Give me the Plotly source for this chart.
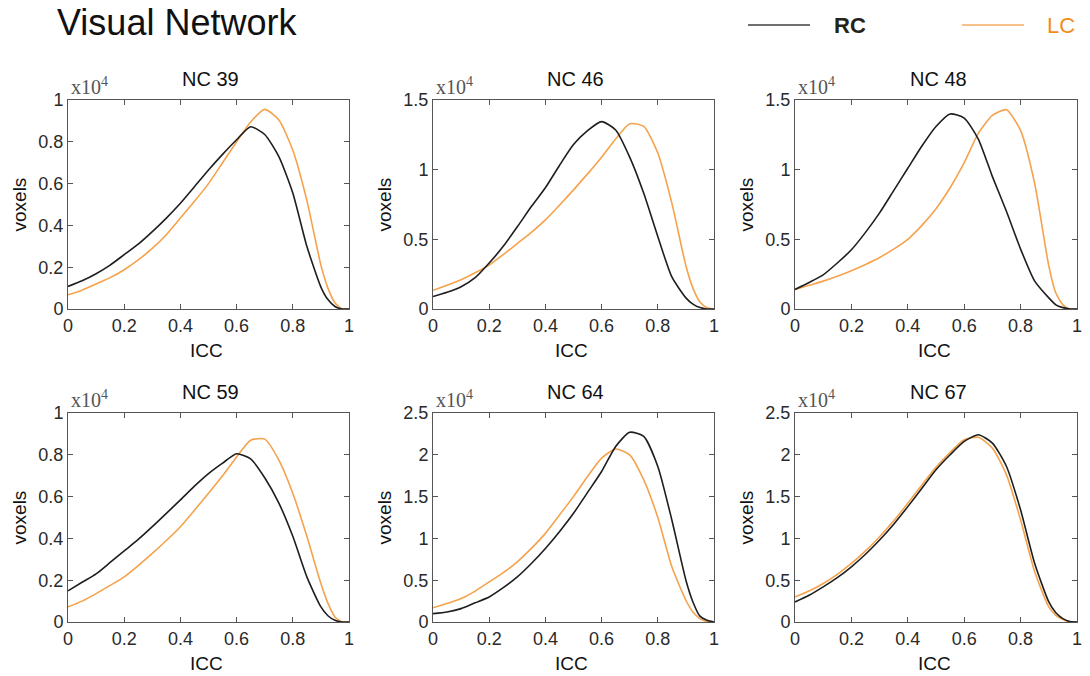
import plotly.graph_objects as go

# ICC grid (x values, shared by all panels)
icc = [0, 0.05, 0.1, 0.15, 0.2, 0.25, 0.3, 0.35, 0.4, 0.45, 0.5, 0.55, 0.6, 0.65,
       0.7, 0.75, 0.8, 0.85, 0.9, 0.925, 0.95, 0.975, 1.0]

panel_titles = ["NC 39", "NC 46", "NC 48", "NC 59", "NC 64", "NC 67"]
y_max = [1.0, 1.5, 1.5, 1.0, 2.5, 2.5]
y_dtick = [0.2, 0.5, 0.5, 0.2, 0.5, 0.5]

# voxels (x10^4)
rc_nc39 = [0.108, 0.135, 0.169, 0.21, 0.26, 0.31, 0.37, 0.435, 0.506, 0.585, 0.665, 0.74, 0.81, 0.872,
           0.835, 0.73, 0.555, 0.30, 0.105, 0.045, 0.012, 0.0, 0.0]
lc_nc39 = [0.068, 0.09, 0.12, 0.15, 0.188, 0.235, 0.29, 0.355, 0.435, 0.515, 0.60, 0.70, 0.80, 0.895,
           0.955, 0.905, 0.76, 0.52, 0.21, 0.10, 0.03, 0.0, 0.0]

rc_nc46 = [0.09, 0.12, 0.16, 0.225, 0.33, 0.45, 0.59, 0.735, 0.87, 1.03, 1.18, 1.28, 1.345, 1.285,
           1.09, 0.83, 0.52, 0.23, 0.08, 0.035, 0.01, 0.0, 0.0]
lc_nc46 = [0.134, 0.17, 0.21, 0.26, 0.315, 0.39, 0.47, 0.55, 0.64, 0.745, 0.855, 0.97, 1.09, 1.22,
           1.33, 1.31, 1.12, 0.76, 0.31, 0.15, 0.05, 0.01, 0.0]

rc_nc48 = [0.14, 0.19, 0.245, 0.33, 0.425, 0.55, 0.69, 0.85, 1.01, 1.17, 1.31, 1.40, 1.37, 1.22,
           0.95, 0.70, 0.43, 0.20, 0.08, 0.03, 0.01, 0.0, 0.0]
lc_nc48 = [0.14, 0.17, 0.20, 0.235, 0.275, 0.32, 0.37, 0.43, 0.50, 0.60, 0.72, 0.87, 1.05, 1.26,
           1.39, 1.43, 1.28, 0.90, 0.31, 0.115, 0.03, 0.0, 0.0]

rc_nc59 = [0.149, 0.19, 0.23, 0.285, 0.34, 0.395, 0.456, 0.52, 0.584, 0.65, 0.71, 0.76, 0.805, 0.78,
           0.69, 0.57, 0.41, 0.216, 0.072, 0.03, 0.008, 0.0, 0.0]
lc_nc59 = [0.072, 0.10, 0.136, 0.175, 0.216, 0.27, 0.328, 0.39, 0.456, 0.535, 0.616, 0.70, 0.79, 0.87,
           0.875, 0.776, 0.616, 0.41, 0.184, 0.09, 0.024, 0.0, 0.0]

rc_nc64 = [0.10, 0.12, 0.16, 0.23, 0.30, 0.41, 0.54, 0.70, 0.88, 1.08, 1.30, 1.55, 1.80, 2.10,
           2.27, 2.22, 1.86, 1.22, 0.50, 0.24, 0.07, 0.02, 0.0]
lc_nc64 = [0.17, 0.22, 0.28, 0.37, 0.48, 0.59, 0.72, 0.88, 1.06, 1.28, 1.50, 1.74, 1.96, 2.07,
           2.0, 1.70, 1.25, 0.66, 0.26, 0.12, 0.04, 0.005, 0.0]

rc_nc67 = [0.24, 0.32, 0.42, 0.53, 0.66, 0.81, 0.98, 1.17, 1.38, 1.60, 1.82, 2.0, 2.16, 2.24,
           2.14, 1.86, 1.34, 0.70, 0.24, 0.11, 0.04, 0.005, 0.0]
lc_nc67 = [0.30, 0.37, 0.46, 0.57, 0.70, 0.85, 1.02, 1.21, 1.42, 1.64, 1.85, 2.03, 2.18, 2.21,
           2.08, 1.76, 1.22, 0.60, 0.18, 0.08, 0.03, 0.0, 0.0]

rc_series = [rc_nc39, rc_nc46, rc_nc48, rc_nc59, rc_nc64, rc_nc67]
lc_series = [lc_nc39, lc_nc46, lc_nc48, lc_nc59, lc_nc64, lc_nc67]

RC_COLOR = "#1e1e1e"
LC_COLOR = "#f5a24c"
W, H = 1090, 676

# panel pixel boxes (left, right) and (top, bottom)
cols = [(68, 349), (433, 714), (795, 1077)]
rows = [(100, 309), (413, 622)]

fig = go.Figure()
layout = dict(width=W, height=H, autosize=False,
              margin=dict(l=0, r=0, t=0, b=0, pad=0, autoexpand=False),
              plot_bgcolor="white", paper_bgcolor="white", showlegend=False)
annotations = []
shapes = []
font_sans = "Liberation Sans, Arial, sans-serif"


def px_x(p):
    return p / W


def px_y(p):
    return 1 - p / H


for i in range(6):
    r, c = divmod(i, 3)
    l, rt = cols[c]
    t, b = rows[r]
    n = i + 1
    xa = "x" if n == 1 else f"x{n}"
    ya = "y" if n == 1 else f"y{n}"
    for ys, col in ((lc_series[i], LC_COLOR), (rc_series[i], RC_COLOR)):
        fig.add_trace(go.Scatter(x=icc, y=ys, mode="lines", xaxis=xa, yaxis=ya,
                                 line=dict(color=col, width=1.6, shape="spline", smoothing=0.6),
                                 hoverinfo="skip"))
    common = dict(showline=True, linecolor="#555", linewidth=1, mirror="ticks",
                  ticks="inside", ticklen=5, tickcolor="#555", showgrid=False, zeroline=False,
                  tickfont=dict(family=font_sans, size=18, color="#2a2a2a"), fixedrange=True)
    sfx = "" if n == 1 else str(n)
    layout["xaxis" + sfx] = dict(common, domain=[px_x(l), px_x(rt)], anchor=ya,
                                 range=[0, 1], tick0=0, dtick=0.2)
    layout["yaxis" + sfx] = dict(common, domain=[px_y(b), px_y(t)], anchor=xa,
                                 range=[0, y_max[i]], tick0=0, dtick=y_dtick[i])
    cx = (l + rt) / 2
    annotations.append(dict(text=panel_titles[i], x=px_x(cx + 2), y=px_y(t - 21), xref="paper",
                            yref="paper", xanchor="center", yanchor="middle", showarrow=False,
                            font=dict(family=font_sans, size=20, color="#111")))
    annotations.append(dict(text="x10<sup>4</sup>", x=px_x(l + 1), y=px_y(t - 14), xref="paper",
                            yref="paper", xanchor="left", yanchor="middle", showarrow=False,
                            font=dict(family="Liberation Serif, Times New Roman, serif", size=20,
                                      color="#555")))
    annotations.append(dict(text="voxels", x=px_x(l - 49), y=px_y((t + b) / 2), xref="paper",
                            yref="paper", textangle=-90, xanchor="center", yanchor="middle",
                            showarrow=False, font=dict(family=font_sans, size=19, color="#111")))
    annotations.append(dict(text="ICC", x=px_x(cx - 2), y=px_y(b + 41), xref="paper", yref="paper",
                            xanchor="center", yanchor="middle", showarrow=False,
                            font=dict(family=font_sans, size=19, color="#111")))

# main title
annotations.append(dict(text="Visual Network", x=px_x(55), y=px_y(22), xref="paper", yref="paper",
                        xanchor="left", yanchor="middle", showarrow=False,
                        font=dict(family=font_sans, size=36, color="#111")))
# legend
shapes.append(dict(type="line", xref="paper", yref="paper", x0=px_x(748), x1=px_x(810),
                   y0=px_y(25), y1=px_y(25), line=dict(color="#707070", width=2)))
shapes.append(dict(type="line", xref="paper", yref="paper", x0=px_x(962), x1=px_x(1024),
                   y0=px_y(25), y1=px_y(25), line=dict(color="#f9c08a", width=2)))
annotations.append(dict(text="<b>RC</b>", x=px_x(832), y=px_y(25), xref="paper", yref="paper",
                        xanchor="left", yanchor="middle", showarrow=False,
                        font=dict(family=font_sans, size=22, color="#23231a")))
annotations.append(dict(text="LC", x=px_x(1045), y=px_y(25), xref="paper", yref="paper",
                        xanchor="left", yanchor="middle", showarrow=False,
                        font=dict(family=font_sans, size=22, color="#f28c1c")))

layout["annotations"] = annotations
layout["shapes"] = shapes
fig.update_layout(**layout)
fig.write_html("out.html", config={"displayModeBar": False},
               post_script="document.body.style.margin='0';document.body.style.padding='0';")
